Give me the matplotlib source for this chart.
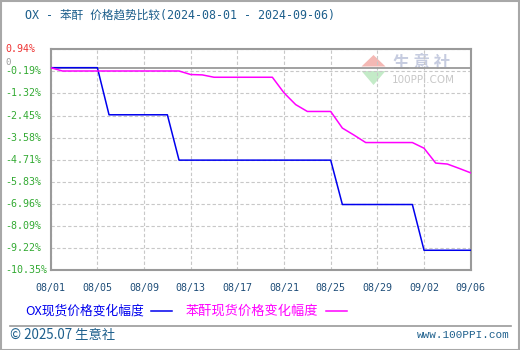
import matplotlib
matplotlib.use("Agg")
import matplotlib.pyplot as plt
import matplotlib.transforms as mtransforms
from matplotlib.lines import Line2D
from matplotlib.patches import Polygon, Rectangle
import pandas as pd

# ---- data -------------------------------------------------------------
dates = pd.date_range("2024-08-01", "2024-09-06", freq="D")

ox_change = [0, 0, 0, 0, 0,
             -2.41, -2.41, -2.41, -2.41, -2.41, -2.41,
             -4.73, -4.73, -4.73, -4.73, -4.73, -4.73, -4.73,
             -4.73, -4.73, -4.73, -4.73, -4.73, -4.73, -4.73,
             -7.00, -7.00, -7.00, -7.00, -7.00, -7.00, -7.00,
             -9.34, -9.34, -9.34, -9.34, -9.34]

pa_change = [0,
             -0.17, -0.17, -0.17, -0.17, -0.17, -0.17, -0.17, -0.17, -0.17, -0.17, -0.17,
             -0.35, -0.37,
             -0.49, -0.49, -0.49, -0.49, -0.49, -0.49,
             -1.29, -1.89, -2.24, -2.24, -2.24,
             -3.09, -3.45,
             -3.83, -3.83, -3.83, -3.83, -3.83,
             -4.12, -4.88, -4.93, -5.15, -5.38]

y_ticks = [0.94, -0.19, -1.32, -2.45, -3.58, -4.71, -5.83, -6.96, -8.09, -9.22, -10.35]
y_labels = ["0.94%", "-0.19%", "-1.32%", "-2.45%", "-3.58%", "-4.71%",
            "-5.83%", "-6.96%", "-8.09%", "-9.22%", "-10.35%"]
x_tick_days = [0, 4, 8, 12, 16, 20, 24, 28, 32, 36]
x_labels = ["08/01", "08/05", "08/09", "08/13", "08/17",
            "08/21", "08/25", "08/29", "09/02", "09/06"]

title = "OX - 苯酐 价格趋势比较(2024-08-01 - 2024-09-06)"
legend_ox = "OX现货价格变化幅度"
legend_pa = "苯酐现货价格变化幅度"

# ---- styling ----------------------------------------------------------
W, H = 520, 350
MONO = ["DejaVu Sans Mono", "Noto Sans CJK SC"]
CJK = ["Noto Sans CJK SC", "DejaVu Sans"]
FRAME = "#9a9a9a"
GRID = "#c8c8c8"
TEAL = "#1d5f8c"
BLUE = "#0000ee"
MAGENTA = "#ff00ff"


def fx(px):
    return px / W


def fy(py):
    return 1 - py / H


fig = plt.figure(figsize=(W / 100, H / 100), dpi=100)
fig.patch.set_facecolor("white")

left, right, top, bottom = 50.7, 470.7, 49.3, 270.0
ax = fig.add_axes([fx(left), fy(bottom), (right - left) / W, (bottom - top) / H])
ax.set_facecolor("white")

days = list(range(len(dates)))
ax.plot(days, ox_change, color=BLUE, lw=1.1, zorder=3)
ax.plot(days, pa_change, color=MAGENTA, lw=1.1, zorder=3)

ax.set_xlim(0, 36)
ax.set_ylim(-10.35, 0.94)

ax.set_xticks(x_tick_days)
ax.set_xticklabels(x_labels, family=MONO, fontsize=7.2, color="#1f4e79")
ax.set_yticks(y_ticks)
ax.set_yticklabels([])
ax.tick_params(axis="both", length=0)
ax.tick_params(axis="x", pad=9)

ax.set_axisbelow(True)
ax.grid(True, color=GRID, lw=0.8, linestyle=(0, (3, 2)))
ax.axhline(0, color=FRAME, lw=1.3, zorder=2)

for sp in ax.spines.values():
    sp.set_color(FRAME)
    sp.set_linewidth(1.5)

# y labels, left-aligned at the figure edge
ylab_tr = mtransforms.blended_transform_factory(fig.transFigure, ax.transData)
for val, lab in zip(y_ticks, y_labels):
    color = "#ee3333" if val > 0 else "#33aa33"
    ax.text(fx(5), val, lab, transform=ylab_tr, ha="left", va="center",
            family=MONO, fontsize=7.2, color=color, clip_on=False)

# baseline marker label, sitting just above the -0.19% label
zero_tr = mtransforms.offset_copy(ylab_tr, fig=fig, x=0, y=5, units="dots")
ax.text(fx(5.5), 0, "0", transform=zero_tr, ha="left", va="center",
        family=MONO, fontsize=6.5, color="#999999", clip_on=False)

# watermark logo
wm = [
    Polygon([(fx(361.5), fy(66.5)), (fx(373.5), fy(55)), (fx(385.5), fy(66.5))],
            closed=True, facecolor="#f4b8b4", edgecolor="none"),
    Polygon([(fx(361.5), fy(71)), (fx(373.5), fy(85)), (fx(385.5), fy(71))],
            closed=True, facecolor="#c4ebc8", edgecolor="none"),
]
for p in wm:
    p.set_transform(fig.transFigure)
    p.set_zorder(0.1)
    p.set_clip_on(False)
    ax.add_patch(p)
ax.text(fx(393), fy(63), "生 意 社", transform=fig.transFigure, ha="left", va="center",
        family=CJK, fontsize=12, color="#c6cce0", zorder=0.1, fontweight="bold")
ax.text(fx(392), fy(80), "100PPI.COM", transform=fig.transFigure, ha="left", va="center",
        family=["DejaVu Sans"], fontsize=7.5, color="#c8c8c8", zorder=0.1)

# title
fig.text(fx(25), fy(15), title, ha="left", va="center", family=MONO,
         fontsize=8.4, color=TEAL)

# legend row
fig.text(fx(25), fy(311), legend_ox, ha="left", va="center", family=CJK,
         fontsize=9.2, color=BLUE)
fig.add_artist(Line2D([fx(151), fx(172)], [fy(311), fy(311)], color=BLUE, lw=1.1,
                      transform=fig.transFigure))
fig.text(fx(185.5), fy(311), legend_pa, ha="left", va="center", family=CJK,
         fontsize=9.5, color=MAGENTA)
fig.add_artist(Line2D([fx(326), fx(347)], [fy(311), fy(311)], color=MAGENTA, lw=1.1,
                      transform=fig.transFigure))

# footer
fig.add_artist(Line2D([fx(10), fx(511)], [fy(325.7), fy(325.7)], color=FRAME, lw=1.2,
                      transform=fig.transFigure))
fig.text(fx(10), fy(335.5), "© 2025.07 生意社", ha="left", va="center", family=CJK,
         fontsize=9.6, color=TEAL)
fig.text(fx(510), fy(335.5), "www.100PPI.com", ha="right", va="center",
         family=["Liberation Mono"], fontsize=7.9, color=TEAL)

# outer border
fig.add_artist(Rectangle((0.001, 0.001), 0.997, 0.997, transform=fig.transFigure,
                         fill=False, edgecolor="#a8a8a8", lw=1.5))

fig.savefig("out.png", dpi=100, facecolor="white")
